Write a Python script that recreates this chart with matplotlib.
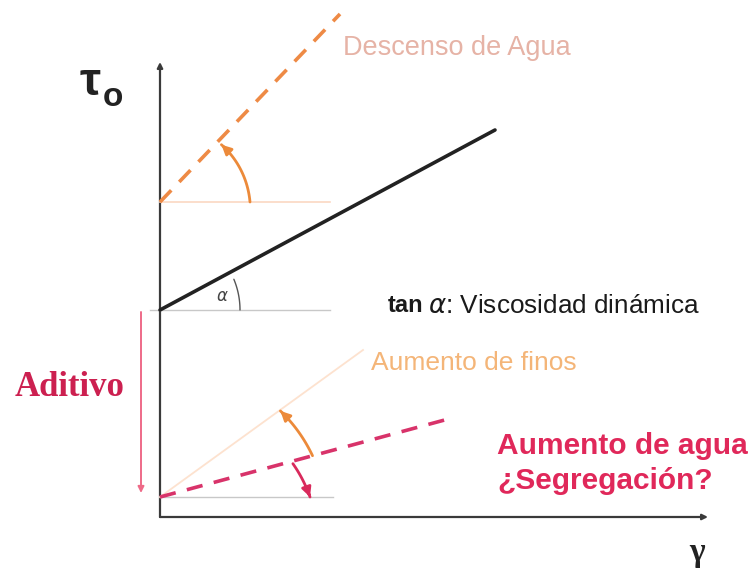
import numpy as np
import matplotlib
matplotlib.use("Agg")
import matplotlib.pyplot as plt
from matplotlib.patches import FancyArrowPatch

# ---- diagram data (shear rate gamma vs. shear stress tau, arbitrary units) ----
axis_gamma_max = 548
axis_tau_max = 455

base_gamma = [0, 335]          # reference concrete (black line)
base_tau = [207, 387]

descenso_gamma = [0, 180]      # "Descenso de Agua"
descenso_tau = [315, 503]

finos_gamma = [0, 203]         # "Aumento de finos"
finos_tau = [20, 167]

agua_gamma = [0, 292]          # "Aumento de agua"
agua_tau = [20, 99]

ref_len = 170                  # horizontal reference lines at each yield stress
aditivo_top = 205
aditivo_bottom = 24

# ---- figure ----
fig = plt.figure(figsize=(7.52, 5.78), dpi=100)
ax = fig.add_axes([0, 0, 1, 1])
ax.set_xlim(-160, 592)
ax.set_ylim(-61, 517)
ax.axis("off")

SANS = ["Liberation Sans", "DejaVu Sans"]


def angle(gx, ty):
    return np.arctan2(ty[1] - ty[0], gx[1] - gx[0])


def arc(cx, cy, r0, r1, a0, a1, color, lw, head=False, n=60):
    t = np.linspace(0, 1, n)
    a = a0 + (a1 - a0) * t
    r = r0 + (r1 - r0) * t
    xs = cx + r * np.cos(a)
    ys = cy + r * np.sin(a)
    ax.plot(xs, ys, color=color, lw=lw, solid_capstyle="round")
    if head:
        ax.add_patch(FancyArrowPatch((xs[-6], ys[-6]), (xs[-1], ys[-1]),
                                     arrowstyle="-|>", mutation_scale=14,
                                     color=color, lw=lw, shrinkA=0, shrinkB=0))


# axes
ax.add_patch(FancyArrowPatch((0, 0), (axis_gamma_max, 0), arrowstyle="-|>",
                             mutation_scale=8, color="#3a3a3a", lw=1.6,
                             shrinkA=0, shrinkB=0))
ax.add_patch(FancyArrowPatch((0, 0), (0, axis_tau_max), arrowstyle="-|>",
                             mutation_scale=8, color="#3a3a3a", lw=1.6,
                             shrinkA=0, shrinkB=0))

# horizontal reference lines
ax.plot([0, ref_len], [descenso_tau[0]] * 2, color="#fbd8c2", lw=1.2)
ax.plot([-10, ref_len], [base_tau[0]] * 2, color="#c8c8c8", lw=1.0)
ax.plot([0, ref_len + 3], [agua_tau[0]] * 2, color="#c8c8c8", lw=1.0)

# lines
ax.plot(base_gamma, base_tau, color="#222222", lw=2.6, solid_capstyle="round")
ax.plot(descenso_gamma, descenso_tau, color="#ee8a45", lw=2.6,
        dashes=(4.5, 3.2))
ax.plot(finos_gamma, finos_tau, color="#fde2cf", lw=1.3)
ax.plot(agua_gamma, agua_tau, color="#d8336a", lw=2.6, dashes=(4.5, 3.2))

# angle arcs
a_base = angle(base_gamma, base_tau)
a_desc = angle(descenso_gamma, descenso_tau)
a_fin = angle(finos_gamma, finos_tau)
a_agua = angle(agua_gamma, agua_tau)

arc(0, base_tau[0], 80, 80, 0, a_base * 0.8, "#555555", 1.0)
arc(0, descenso_tau[0], 90, 84, 0, a_desc * 0.93, "#ec8a3a", 2.0, head=True)
arc(0, agua_tau[0], 158, 148, a_agua, a_fin * 0.99, "#ec8a3a", 2.0, head=True)
arc(0, agua_tau[0], 137, 150, a_agua * 0.93, 0.0, "#d92a5c", 2.0, head=True)

# Aditivo arrow
ax.add_patch(FancyArrowPatch((-19, aditivo_top), (-19, aditivo_bottom),
                             arrowstyle="-|>", mutation_scale=9,
                             color="#ee6a88", lw=1.4, shrinkA=0, shrinkB=0))

# texts
ax.text(-80, 434, "τ", fontsize=34, family=SANS, color="#222222",
        ha="left", va="center", fontweight="bold")
ax.text(-57, 420, "o", fontsize=24, family=SANS, color="#222222",
        ha="left", va="center", fontweight="bold")
ax.text(537, -36, "γ", fontsize=24, family=["Liberation Serif", "DejaVu Serif"],
        color="#222222", ha="center", va="center", fontweight="bold")

ax.text(62, 221, r"$\alpha$", fontsize=12, color="#444444",
        ha="center", va="center")

ax.text(183, 469, "Descenso de Agua", fontsize=19.5, family=SANS,
        color="#e6b3a6", ha="left", va="center")
ax.text(228, 211, "tan", fontsize=17, family=SANS, color="#1a1a1a",
        fontweight="bold", ha="left", va="center")
ax.text(268, 211, r"$\alpha$: Viscosidad dinámica", fontsize=18.8,
        family=SANS, color="#1a1a1a", ha="left", va="center")
ax.text(211, 154, "Aumento de finos", fontsize=19, family=SANS,
        color="#f4b578", ha="left", va="center")
ax.text(337, 71, "Aumento de agua", fontsize=21.5, family=SANS,
        color="#e0285a", fontweight="bold", ha="left", va="center")
ax.text(337, 36, "¿Segregación?", fontsize=21.5, family=SANS,
        color="#e0285a", fontweight="bold", ha="left", va="center")
ax.text(-90, 129, "Aditivo", fontsize=25, family=["Liberation Serif"],
        color="#cc2050", fontweight="bold", ha="center", va="center")

fig.savefig("out.png", dpi=100)
